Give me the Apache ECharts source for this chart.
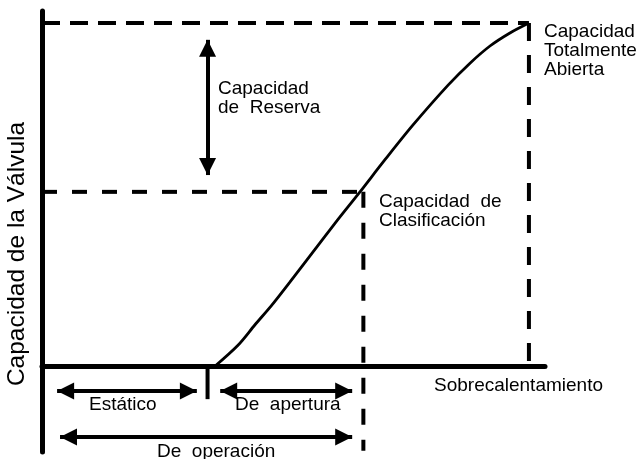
<!DOCTYPE html>
<html>
<head>
<meta charset="utf-8">
<script src="https://cdn.jsdelivr.net/npm/echarts@6/dist/echarts.min.js"></script>
<style>
html, body { margin: 0; padding: 0; background: #fff; }
#main { width: 637px; height: 459px; }
</style>
</head>
<body>
<div id="main"></div>
<script>
// curva: capacidad de la valvula (%) vs sobrecalentamiento (%)
var curveX = [35.5, 40.3, 43.7, 47.2, 50.9, 55.0, 60.2, 65.3, 70.4, 76.2, 83.4, 87.9, 92.0, 96.1, 100];
var curveY = [0, 6.2, 12.0, 17.8, 24.5, 32.1, 41.7, 50.8, 60.1, 70.3, 81.9, 88.3, 93.3, 97.1, 100];

var openX = 34;     // inicio de apertura
var ratedX = 66;    // punto de clasificacion
var ratedY = 50.8;
var fullX = 100;    // totalmente abierta
var fullY = 100;
var tickBottom = -9.6;
var bottomY = -24.6;

// flechas: [x1, y1, x2, y2]
var reserveArrow = [34, 95.1, 34, 55.7];
var staticArrow = [3.1, -7.2, 31.8, -7.2];
var openingArrow = [36.6, -7.2, 63.7, -7.2];
var operatingArrow = [3.7, -20.6, 63.7, -20.6];

var FONT = '"Liberation Sans", Arial, Helvetica, sans-serif';

function seg(a) {
	return [{ coord: [a[0], a[1]] }, { coord: [a[2], a[3]] }];
}

function dashed(points, dash) {
	return {
		type : 'line',
		data : points,
		symbol : 'none',
		silent : true,
		z : 3,
		lineStyle : { color : '#000', width : 4, type : dash }
	};
}

function txt(x, y, text, size) {
	return {
		type : 'text',
		x : x,
		y : y,
		silent : true,
		style : {
			text : text,
			fill : '#000',
			fontFamily : FONT,
			fontSize : size || 19,
			lineHeight : 19,
			align : 'left',
			verticalAlign : 'top'
		}
	};
}

var chart = echarts.init(document.getElementById('main'));

var curve = [];
for (var i = 0; i < curveX.length; i++) {
	curve.push([curveX[i], curveY[i]]);
}

var option = {
	animation : false,
	backgroundColor : '#fff',
	grid : { left : 42, right : 92, top : 11, bottom : 7 },
	xAxis : {
		type : 'value',
		min : 0,
		max : 103.3,
		axisLine : { onZero : true, lineStyle : { color : '#000', width : 5 } },
		axisTick : { show : false },
		axisLabel : { show : false },
		splitLine : { show : false }
	},
	yAxis : {
		type : 'value',
		min : -25,
		max : 103.5,
		axisLine : { show : true, onZero : true, lineStyle : { color : '#000', width : 5 } },
		axisTick : { show : false },
		axisLabel : { show : false },
		splitLine : { show : false }
	},
	series : [
		dashed([[0, fullY], [fullX, fullY]], [18, 10]),
		dashed([[fullX, fullY], [fullX, 0]], [18, 14]),
		dashed([[0, ratedY], [ratedX, ratedY]], [15, 15]),
		dashed([[ratedX, ratedY], [ratedX, bottomY]], [16, 15]),
		{
			type : 'line',
			data : [[openX, 0], [openX, tickBottom]],
			symbol : 'none',
			silent : true,
			lineStyle : { color : '#000', width : 4 }
		},
		{
			type : 'line',
			data : curve,
			smooth : 0.3,
			symbol : 'none',
			silent : true,
			z : 4,
			lineStyle : { color : '#000', width : 2.8 },
			markLine : {
				silent : true,
				symbol : ['triangle', 'triangle'],
				symbolSize : [17, 17],
				symbolOffset : [[0, 8.5], [0, 8.5]],
				label : { show : false },
				lineStyle : { color : '#000', width : 4, type : 'solid' },
				itemStyle : { color : '#000' },
				data : [seg(reserveArrow), seg(staticArrow), seg(openingArrow), seg(operatingArrow)]
			}
		}
	],
	graphic : [
		{
			type : 'text',
			x : 17,
			y : 254,
			rotation : Math.PI / 2,
			silent : true,
			style : {
				text : 'Capacidad de la Válvula',
				fill : '#000',
				fontFamily : FONT,
				fontSize : 24.5,
				align : 'center',
				verticalAlign : 'middle'
			}
		},
		txt(218, 79, 'Capacidad\nde  Reserva'),
		txt(379, 192, 'Capacidad  de\nClasificación'),
		txt(544, 22, 'Capacidad\nTotalmente\nAbierta'),
		txt(434, 376, 'Sobrecalentamiento'),
		txt(89, 395, 'Estático'),
		txt(235, 395, 'De  apertura'),
		txt(157, 442, 'De  operación')
	]
};

chart.setOption(option);
</script>
</body>
</html>
